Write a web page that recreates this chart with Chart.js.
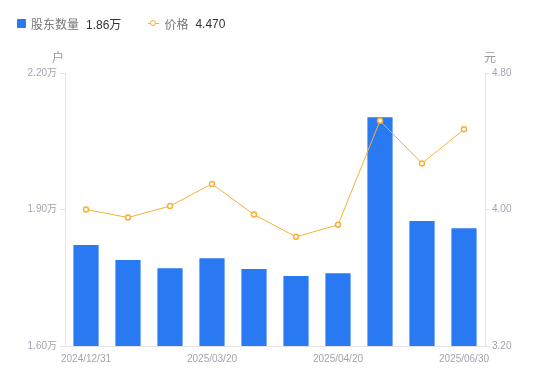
<!DOCTYPE html>
<html><head><meta charset="utf-8">
<script src="https://cdn.jsdelivr.net/npm/chart.js@4"></script>
<style>
html,body{margin:0;padding:0;background:#fff;}
#wrap{position:relative;width:550px;height:381px;}
#legend{position:absolute;left:17px;top:15px;font-family:"Liberation Sans","Noto Sans CJK SC",sans-serif;font-size:12px;display:flex;align-items:center;white-space:nowrap;}
.sq{display:inline-block;width:9px;height:9px;background:#2979f2;border-radius:1px;margin-right:5px;}
.ln{display:inline-block;position:relative;width:11px;height:9px;margin-right:5px;}
.ln:before{content:"";position:absolute;left:0;right:0;top:4px;height:1px;background:#f7b035;}
.ln:after{content:"";position:absolute;left:2px;top:1px;width:4px;height:4px;border:1.5px solid #f7b035;border-radius:50%;background:#fff;}
.lab{color:#777;margin-right:7px;}
.val{color:#333;}
canvas{position:absolute;left:0;top:0;}
</style></head>
<body><div id="wrap">
<canvas id="c" width="550" height="381"></canvas>
<div id="legend"><span class="sq"></span><span class="lab">股东数量</span><span class="val">1.86万</span><span style="width:27px;display:inline-block"></span><span class="ln"></span><span class="lab">价格</span><span class="val">4.470</span></div>
</div>
<script>
const categories = ["2024/12/31","2025/01/20","2025/02/28","2025/03/20","2025/03/31","2025/04/10","2025/04/20","2025/04/30","2025/05/31","2025/06/30"];
const holders = [1.822, 1.789, 1.771, 1.793, 1.769, 1.754, 1.760, 2.103, 1.875, 1.859];
const prices = [4.00, 3.953, 4.02, 4.15, 3.97, 3.84, 3.91, 4.52, 4.27, 4.47];
const shownXTicks = [0, 3, 6, 9];
const leftTicks = [1.60, 1.90, 2.20];
const rightTicks = [3.20, 4.00, 4.80];

const gray = '#a3a3b0';
const axisColor = '#e3e3e8';
const font = {family:'"Liberation Sans","Noto Sans CJK SC",sans-serif', size:10};

const titlePlugin = {
  id:'axisTitles',
  afterDraw(chart){
    const ctx = chart.ctx, a = chart.chartArea;
    ctx.save();
    ctx.fillStyle = '#999';
    ctx.font = '12px "Noto Sans CJK SC",sans-serif';
    ctx.textAlign='center'; ctx.textBaseline='middle';
    ctx.fillText('户', a.left-7, a.top-16);
    ctx.fillText('元', a.right+5, a.top-16);
    ctx.restore();
  }
};

new Chart(document.getElementById('c'), {
  data:{
    labels:categories,
    datasets:[
      {type:'line', label:'价格', data:prices, yAxisID:'y1', order:0,
       borderColor:'#f7b035', borderWidth:1, pointRadius:2.5, pointBorderWidth:1.5,
       pointBackgroundColor:'#fff', pointBorderColor:'#f7b035', tension:0},
      {type:'bar', label:'股东数量', data:holders, yAxisID:'y', order:1,
       backgroundColor:'#2979f2', barPercentage:0.6, categoryPercentage:1}
    ]
  },
  options:{
    responsive:false, animation:false,
    layout:{padding:{top:73,left:0,right:0,bottom:0}},
    plugins:{legend:{display:false}, tooltip:{enabled:false}},
    scales:{
      x:{type:'category', position:'bottom', offset:true,
         grid:{display:false, drawTicks:false}, border:{color:axisColor},
         ticks:{color:gray, font, padding:7, maxRotation:0, autoSkip:false,
                callback(v,i){return shownXTicks.includes(i)?categories[i]:'';}},
         afterFit(s){s.height=35;}},
      y:{type:'linear', position:'left', min:1.6, max:2.2,
         afterBuildTicks(s){s.ticks=leftTicks.map(v=>({value:v}));},
         grid:{drawOnChartArea:false, color:axisColor, tickLength:5}, border:{color:axisColor},
         ticks:{color:gray, font, padding:3, callback:(v)=>v.toFixed(2)+'万'},
         afterFit(s){s.width=65;}},
      y1:{type:'linear', position:'right', min:3.2, max:4.8,
         afterBuildTicks(s){s.ticks=rightTicks.map(v=>({value:v}));},
         grid:{drawOnChartArea:false, color:axisColor, tickLength:5}, border:{color:axisColor},
         ticks:{color:gray, font, padding:2, callback:(v)=>v.toFixed(2)},
         afterFit(s){s.width=65;}}
    }
  },
  plugins:[titlePlugin]
});
</script>
</body></html>
